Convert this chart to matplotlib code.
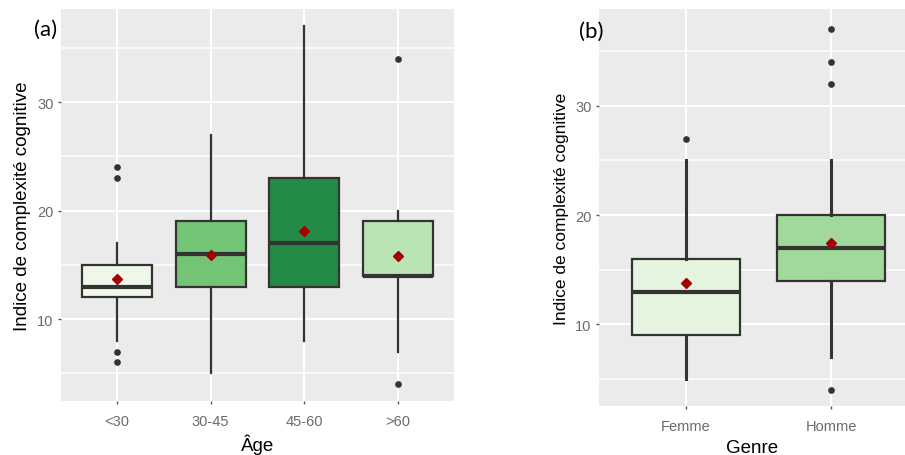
import matplotlib
matplotlib.use("Agg")
import matplotlib.pyplot as plt
from matplotlib.ticker import MultipleLocator

# Panneau (a) : âge
age_groups = ["<30", "30-45", "45-60", ">60"]
age_q1 = [12, 13, 13, 14]
age_med = [13, 16, 17, 14]
age_q3 = [15, 19, 23, 19]
age_wlo = [8, 5, 8, 7]
age_whi = [17, 27, 37, 20]
age_mean = [13.7, 15.9, 18.1, 15.8]
age_out = [[24, 23, 7, 6], [], [], [34, 4]]
age_colors = ["#EEF7E8", "#74C476", "#238B45", "#BAE4B3"]

# Panneau (b) : genre
genre_groups = ["Femme", "Homme"]
genre_q1 = [9, 14]
genre_med = [13, 17]
genre_q3 = [16, 20]
genre_wlo = [5, 7]
genre_whi = [25, 25]
genre_mean = [13.8, 17.4]
genre_out = [[27], [37, 34, 32, 4]]
genre_colors = ["#E5F5E0", "#A1D99B"]

EDGE = "#333333"
TXT = "#6b6b6b"
SANS = ["Liberation Sans", "DejaVu Sans"]


def draw_panel(ax, labels, q1, med, q3, wlo, whi, means, outs, colors,
               xlabel, tag, tag_xy, ylim, xlim, wl, ylab_size, tick_pad):
    stats = []
    for i, lab in enumerate(labels):
        stats.append(dict(label=lab, q1=q1[i], med=med[i], q3=q3[i],
                          whislo=wlo[i], whishi=whi[i], fliers=outs[i]))
    pos = list(range(1, len(labels) + 1))
    bp = ax.bxp(stats, positions=pos, widths=0.75, patch_artist=True,
                showcaps=False, manage_ticks=False,
                boxprops=dict(edgecolor=EDGE, linewidth=1.6),
                medianprops=dict(color=EDGE, linewidth=3.0, solid_capstyle="butt"),
                whiskerprops=dict(color=EDGE, linewidth=wl),
                flierprops=dict(marker="o", markersize=3.8, markerfacecolor=EDGE,
                                markeredgecolor=EDGE))
    for patch, c in zip(bp["boxes"], colors):
        patch.set_facecolor(c)
    ax.plot(pos, means, linestyle="none", marker="D", markersize=5,
            color="#A50000", zorder=5)

    ax.set_facecolor("#EBEBEB")
    for s in ax.spines.values():
        s.set_visible(False)
    ax.set_ylim(*ylim)
    ax.set_xlim(*xlim)
    ax.yaxis.set_major_locator(MultipleLocator(10))
    ax.yaxis.set_minor_locator(MultipleLocator(5))
    ax.set_xticks(pos)
    ax.set_xticklabels(labels)
    ax.grid(which="major", color="white", linewidth=1.5)
    ax.grid(which="minor", axis="y", color="white", linewidth=1.1)
    ax.set_axisbelow(True)
    ax.tick_params(which="minor", length=0)
    ax.tick_params(which="major", length=2.5, width=1, color="#555555",
                   labelcolor=TXT, labelsize=10.5, pad=3)
    ax.tick_params(axis="x", pad=tick_pad)
    for t in ax.get_xticklabels() + ax.get_yticklabels():
        t.set_family(SANS)
    ax.set_ylabel("Indice de complexité cognitive", fontsize=ylab_size,
                  family=SANS, labelpad=4)
    ax.set_xlabel(xlabel, fontsize=13.5, family=SANS, labelpad=4)
    ax.text(tag_xy[0], tag_xy[1], tag, transform=ax.transAxes, fontsize=16,
            family=["Lato", "DejaVu Sans"], ha="center", va="center")


fig = plt.figure(figsize=(9.05, 4.56), dpi=100)
ax1 = fig.add_axes([61 / 905, 1 - 402 / 456, 393 / 905, 392 / 456])
ax2 = fig.add_axes([599 / 905, 1 - 407 / 456, 306 / 905, 397 / 456])

draw_panel(ax1, age_groups, age_q1, age_med, age_q3, age_wlo, age_whi,
           age_mean, age_out, age_colors, "Âge", "(a)", (-0.04, 0.949),
           (2.44, 38.6), (0.4, 4.6), 1.6, 13.5, 7)
draw_panel(ax2, genre_groups, genre_q1, genre_med, genre_q3, genre_wlo,
           genre_whi, genre_mean, genre_out, genre_colors, "Genre", "(b)",
           (-0.026, 0.945), (2.53, 38.85), (0.4, 2.51), 2.2, 12.5, 7)

fig.savefig("out.png", dpi=100, facecolor="white")
